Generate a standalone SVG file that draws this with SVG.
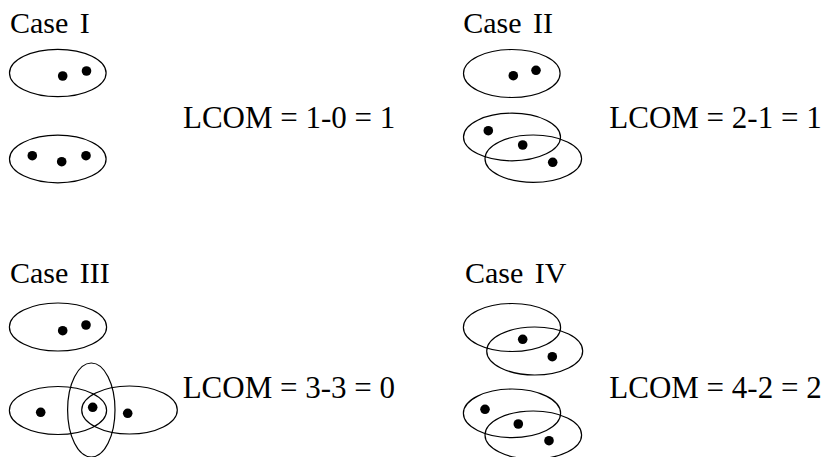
<svg xmlns="http://www.w3.org/2000/svg" width="826" height="457" viewBox="0 0 826 457">
<style>
.t{font-family:'Liberation Serif','Times New Roman',serif;font-size:30px;fill:#000;word-spacing:4px}
.l{font-family:'Liberation Serif','Times New Roman',serif;font-size:31px;fill:#000}
.e{fill:none;stroke:#000;stroke-width:1.2}
.d{fill:#000}
</style>
<rect width="826" height="457" fill="#fff"/>
<g id="case1">
<text class="t" x="10" y="32.5">Case I</text>
<ellipse class="e" cx="57.8" cy="73" rx="48.3" ry="23.7"/>
<circle class="d" cx="62.7" cy="76" r="4.8"/>
<circle class="d" cx="86.5" cy="71" r="4.8"/>
<ellipse class="e" cx="57.8" cy="159" rx="48.3" ry="23.8"/>
<circle class="d" cx="32.3" cy="155.7" r="4.8"/>
<circle class="d" cx="61.7" cy="161.7" r="4.8"/>
<circle class="d" cx="86" cy="155.7" r="4.8"/>
<text class="l" x="183" y="128.3">LCOM = 1-0 = 1</text>
</g>
<g id="case2">
<text class="t" x="463.3" y="32.5">Case II</text>
<ellipse class="e" cx="511.8" cy="73.5" rx="48.3" ry="24"/>
<circle class="d" cx="513.3" cy="75.7" r="4.8"/>
<circle class="d" cx="536" cy="70.3" r="4.8"/>
<ellipse class="e" cx="512" cy="137" rx="48.5" ry="23.8"/>
<ellipse class="e" cx="533.3" cy="158.7" rx="48.3" ry="23.7"/>
<circle class="d" cx="488.3" cy="130.7" r="4.8"/>
<circle class="d" cx="522.7" cy="145" r="4.8"/>
<circle class="d" cx="552.7" cy="162.3" r="4.8"/>
<text class="l" x="609.3" y="128.3">LCOM = 2-1 = 1</text>
</g>
<g id="case3">
<text class="t" x="10" y="282.5">Case III</text>
<ellipse class="e" cx="58" cy="327" rx="48.6" ry="24"/>
<circle class="d" cx="62.7" cy="330.7" r="4.8"/>
<circle class="d" cx="86" cy="325" r="4.8"/>
<ellipse class="e" cx="58" cy="410.5" rx="48.6" ry="24"/>
<ellipse class="e" cx="129.5" cy="410" rx="47.8" ry="24"/>
<ellipse class="e" cx="91.3" cy="410" rx="23.7" ry="47"/>
<circle class="d" cx="40.7" cy="412.3" r="4.8"/>
<circle class="d" cx="92.7" cy="407.3" r="4.8"/>
<circle class="d" cx="127.7" cy="413.3" r="4.8"/>
<text class="l" x="182.7" y="398.3">LCOM = 3-3 = 0</text>
</g>
<g id="case4">
<text class="t" x="465" y="282.5">Case IV</text>
<ellipse class="e" cx="512" cy="327.5" rx="48.6" ry="24"/>
<ellipse class="e" cx="534.7" cy="351" rx="48" ry="24"/>
<circle class="d" cx="522.7" cy="339.3" r="4.8"/>
<circle class="d" cx="552.3" cy="356.7" r="4.8"/>
<ellipse class="e" cx="512" cy="413.3" rx="48.6" ry="24.3"/>
<ellipse class="e" cx="533.3" cy="435" rx="48.3" ry="24"/>
<circle class="d" cx="485" cy="409.3" r="4.8"/>
<circle class="d" cx="518.3" cy="424" r="4.8"/>
<circle class="d" cx="549" cy="440.7" r="4.8"/>
<text class="l" x="609.3" y="398.3">LCOM = 4-2 = 2</text>
</g>
<g id="connectors"/>
</svg>
